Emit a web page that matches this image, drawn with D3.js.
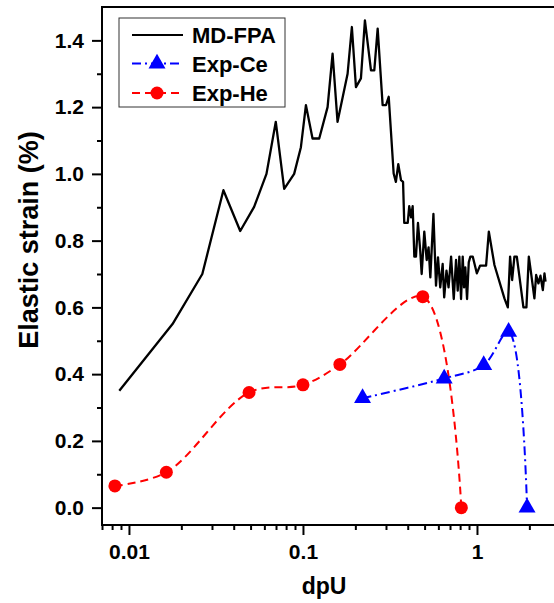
<!DOCTYPE html>
<html>
<head>
<meta charset="utf-8">
<script src="https://cdn.jsdelivr.net/npm/d3@7"></script>
<style>
  body { margin: 0; background: #fff; }
  svg { display: block; font-family: "Liberation Sans", Arial, sans-serif; font-weight: bold; }
</style>
</head>
<body>
<svg id="chart" width="554" height="603"></svg>
<script>
// MD-FPA curve (dpU, elastic strain %)
const mdX = [0.0088, 0.0178, 0.0264, 0.0349, 0.0436, 0.0524, 0.0617, 0.0698, 0.078, 0.089,
  0.0973, 0.104, 0.1135, 0.124, 0.1385, 0.148, 0.158, 0.1805, 0.191, 0.2016,
  0.2153, 0.227, 0.246, 0.257, 0.2687, 0.287, 0.300, 0.311, 0.332, 0.342,
  0.353, 0.366, 0.376, 0.382, 0.400, 0.408, 0.418, 0.427, 0.4365, 0.446,
  0.458, 0.472, 0.481, 0.498, 0.514, 0.527, 0.5395, 0.562, 0.5815, 0.597,
  0.615, 0.635, 0.648, 0.668, 0.6865, 0.710, 0.7355, 0.758, 0.775, 0.792,
  0.810, 0.828, 0.843, 0.857, 0.877, 0.897, 0.916, 0.946, 0.998, 1.042,
  1.128, 1.17, 1.26, 1.438, 1.504, 1.55, 1.592, 1.641, 1.694, 1.754,
  1.849, 1.924, 1.986, 2.047, 2.138, 2.188, 2.255, 2.316, 2.39, 2.443, 2.477];
const mdY = [0.35, 0.55, 0.70, 0.951, 0.829, 0.901, 1.0, 1.156, 0.955, 1.0,
  1.08, 1.206, 1.106, 1.106, 1.20, 1.36, 1.156, 1.30, 1.44, 1.26,
  1.286, 1.46, 1.31, 1.31, 1.435, 1.206, 1.206, 1.231, 1.001, 0.976,
  1.029, 0.981, 0.976, 0.853, 0.853, 0.903, 0.87, 0.903, 0.752, 0.752,
  0.853, 0.77, 0.70, 0.827, 0.742, 0.78, 0.69, 0.88, 0.665, 0.75,
  0.66, 0.73, 0.63, 0.71, 0.66, 0.752, 0.625, 0.742, 0.65, 0.752,
  0.625, 0.752, 0.66, 0.72, 0.625, 0.735, 0.752, 0.752, 0.702, 0.725,
  0.725, 0.827, 0.727, 0.627, 0.60, 0.752, 0.682, 0.752, 0.752, 0.692,
  0.60, 0.60, 0.752, 0.702, 0.627, 0.697, 0.672, 0.695, 0.652, 0.702, 0.677];

// Exp-Ce
const ceX = [0.220, 0.648, 1.093, 1.52, 1.94];
const ceY = [0.328, 0.387, 0.427, 0.527, 0.0];

// Exp-He
const heX = [0.0083, 0.0164, 0.049, 0.100, 0.163, 0.488, 0.813];
const heY = [0.065, 0.106, 0.345, 0.368, 0.429, 0.632, 0.0];

const xMajor = [0.01, 0.1, 1];
const xMajorLabels = ["0.01", "0.1", "1"];
const yMajor = [0.0, 0.2, 0.4, 0.6, 0.8, 1.0, 1.2, 1.4];
const yMinor = [0.1, 0.3, 0.5, 0.7, 0.9, 1.1, 1.3];

const seriesNames = ["MD-FPA", "Exp-Ce", "Exp-He"];

const svg = d3.select("#chart");
const L = 102, T = 7, R = 560, B = 525;

const x = d3.scaleLog().domain([0.007, 3]).range([L, R]);
const y = d3.scaleLinear().domain([-0.052, 1.5]).range([B, T]);

const xMinor = x.ticks().filter(v => !xMajor.some(m => Math.abs(m - v) < 1e-9));

// axes
const gx = svg.append("g").attr("transform", `translate(0,${B})`);
gx.call(d3.axisBottom(x).tickValues(xMinor).tickSize(5).tickSizeOuter(0).tickFormat(""));
gx.select(".domain").remove();
const gx2 = svg.append("g").attr("transform", `translate(0,${B})`);
gx2.call(d3.axisBottom(x).tickValues(xMajor).tickSize(10).tickSizeOuter(0)
  .tickFormat((d, i) => xMajorLabels[i]).tickPadding(9));
gx2.select(".domain").remove();
gx2.selectAll("text").attr("font-size", 21).attr("font-family", "Liberation Sans, Arial").attr("font-weight", "bold").attr("fill", "#000");

const gy = svg.append("g").attr("transform", `translate(${L},0)`);
gy.call(d3.axisLeft(y).tickValues(yMinor).tickSize(5).tickSizeOuter(0).tickFormat(""));
gy.select(".domain").remove();
const gy2 = svg.append("g").attr("transform", `translate(${L},0)`);
gy2.call(d3.axisLeft(y).tickValues(yMajor).tickSize(10).tickSizeOuter(0)
  .tickFormat(d3.format(".1f")).tickPadding(8));
gy2.select(".domain").remove();
gy2.selectAll("text").attr("font-size", 21).attr("font-family", "Liberation Sans, Arial").attr("font-weight", "bold").attr("fill", "#000");

svg.selectAll(".tick line").attr("stroke", "#000").attr("stroke-width", 2);

// frame
svg.append("path")
  .attr("d", `M${L},${B}H${R}M${L},${B + 1}V${T}H${R}`)
  .attr("fill", "none").attr("stroke", "#000").attr("stroke-width", 2);

// axis titles
svg.append("text").attr("x", 324).attr("y", 594).attr("text-anchor", "middle")
  .attr("font-size", 23).text("dpU");
svg.append("text").attr("transform", "translate(28,240) rotate(-90)")
  .attr("text-anchor", "middle").attr("dy", "0.36em")
  .attr("font-size", 27).text("Elastic strain (%)");

// series
const md = mdX.map((v, i) => [v, mdY[i]]);
const ce = ceX.map((v, i) => [v, ceY[i]]);
const he = heX.map((v, i) => [v, heY[i]]);

svg.append("path").datum(md)
  .attr("d", d3.line().x(d => x(d[0])).y(d => y(d[1])))
  .attr("fill", "none").attr("stroke", "#000").attr("stroke-width", 2.3).attr("stroke-linejoin", "round");

const spline = d3.line().x(d => x(d[0])).y(d => y(d[1])).curve(d3.curveCatmullRom.alpha(0.5));

svg.append("path").datum(he).attr("d", spline)
  .attr("fill", "none").attr("stroke", "#ff0000").attr("stroke-width", 2)
  .attr("stroke-dasharray", "8,5");

svg.append("path").datum(ce).attr("d", spline)
  .attr("fill", "none").attr("stroke", "#0000ff").attr("stroke-width", 2)
  .attr("stroke-dasharray", "9,4,2,4");

const tri = d3.symbol().type(d3.symbolTriangle).size(125);

svg.selectAll("circle.he").data(he).join("circle").attr("class", "he")
  .attr("cx", d => x(d[0])).attr("cy", d => y(d[1])).attr("r", 6.5).attr("fill", "#ff0000");

svg.selectAll("path.ce").data(ce).join("path").attr("class", "ce")
  .attr("transform", d => `translate(${x(d[0])},${y(d[1])})`)
  .attr("d", tri).attr("fill", "#0000ff");

// legend
const lg = svg.append("g");
lg.append("rect").attr("x", 119).attr("y", 18).attr("width", 166).attr("height", 89)
  .attr("fill", "#fff").attr("stroke", "#333").attr("stroke-width", 1);
const rowY = [35, 63.5, 93];
const colors = ["#000", "#0000ff", "#ff0000"];
const dashes = [null, "9,4,2,4", "8,5"];
seriesNames.forEach((name, i) => {
  lg.append("line").attr("x1", 132).attr("x2", 183).attr("y1", rowY[i]).attr("y2", rowY[i])
    .attr("stroke", colors[i]).attr("stroke-width", 2).attr("stroke-dasharray", dashes[i]);
  if (i === 1) lg.append("path").attr("transform", `translate(157,${rowY[i]})`).attr("d", tri).attr("fill", colors[i]);
  if (i === 2) lg.append("circle").attr("cx", 157).attr("cy", rowY[i]).attr("r", 6.5).attr("fill", colors[i]);
  lg.append("text").attr("x", 192).attr("y", rowY[i] + 8).attr("font-size", 22).text(name);
});
</script>
</body>
</html>
